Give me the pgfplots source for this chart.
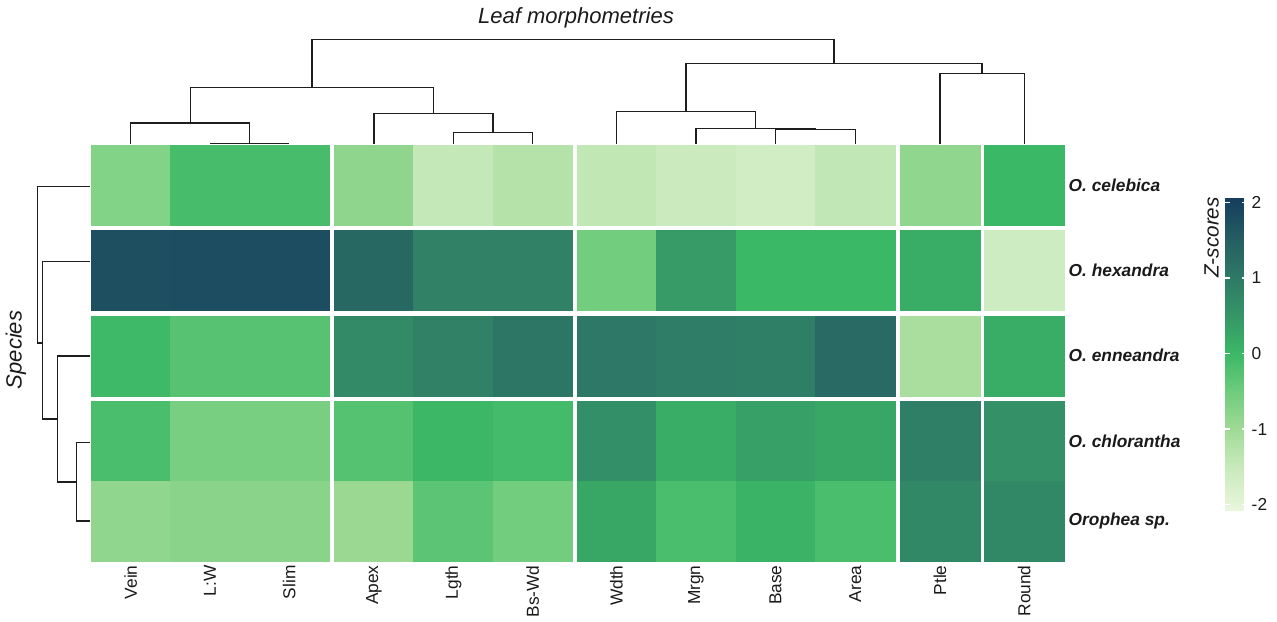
\documentclass[border=0pt]{standalone}
\usepackage{pgfplots}
\usepackage{pgfplotstable}
\pgfplotsset{compat=1.18}
\usepackage{fontspec}
\setmainfont{Liberation Sans}
\definecolor{txt}{RGB}{26,26,26}
\definecolor{dend}{RGB}{30,30,30}

% cell centres (x, y in pixel units of the picture, y measured upward) and z-score
\pgfplotstableread{
x y z
130.7 435.5 -0.70
210.0 435.5 -0.12
289.3 435.5 -0.12
374.0 435.5 -0.83
453.3 435.5 -1.45
532.7 435.5 -1.25
616.5 435.5 -1.40
696.0 435.5 -1.55
775.6 435.5 -1.65
855.2 435.5 -1.42
940.0 435.5 -0.85
1024.2 435.5 0.00
130.7 350.7 1.76
210.0 350.7 1.80
289.3 350.7 1.80
374.0 350.7 1.33
453.3 350.7 0.87
532.7 350.7 0.87
616.5 350.7 -0.54
696.0 350.7 0.43
775.6 350.7 0.00
855.2 350.7 0.00
940.0 350.7 0.18
1024.2 350.7 -1.60
130.7 265.2 -0.02
210.0 265.2 -0.27
289.3 265.2 -0.27
374.0 265.2 0.71
453.3 265.2 0.87
532.7 265.2 1.07
616.5 265.2 1.04
696.0 265.2 0.95
775.6 265.2 0.91
855.2 265.2 1.28
940.0 265.2 -1.12
1024.2 265.2 0.18
130.7 180.0 -0.15
210.0 180.0 -0.60
289.3 180.0 -0.60
374.0 180.0 -0.25
453.3 180.0 0.02
532.7 180.0 -0.08
616.5 180.0 0.62
696.0 180.0 0.18
775.6 180.0 0.36
855.2 180.0 0.25
940.0 180.0 0.91
1024.2 180.0 0.61
130.7 100.2 -0.85
210.0 100.2 -0.77
289.3 100.2 -0.77
374.0 100.2 -0.95
453.3 100.2 -0.32
532.7 100.2 -0.55
616.5 100.2 0.25
696.0 100.2 -0.15
775.6 100.2 0.08
855.2 100.2 -0.15
940.0 100.2 0.75
1024.2 100.2 0.75
}\cells

\begin{document}
\begin{tikzpicture}
\useasboundingbox (0,0) rectangle (957.75pt,465.75pt);
\begin{axis}[
  at={(68.25pt,45.225pt)}, anchor=south west,
  scale only axis, width=729.75pt, height=311.25pt,
  xmin=91, xmax=1064, ymin=60.3, ymax=475.3,
  enlargelimits=false,
  clip=false,
  axis line style={draw=none},
  major tick length=0pt,
  unbounded coords=jump,
  xtick={130.7,210.0,289.3,374.0,453.3,532.7,616.5,696.0,775.6,855.2,940.0,1024.2},
  xticklabels={Vein,L:W,Slim,Apex,Lgth,Bs-Wd,Wdth,Mrgn,Base,Area,Ptle,Round},
  ytick={100.2,180.0,265.2,350.7,435.5},
  yticklabels={Orophea sp.,O. chlorantha,O. enneandra,O. hexandra,O. celebica},
  yticklabel pos=right,
  xticklabel style={rotate=90, anchor=east, font=\fontsize{13}{15}\selectfont, text=txt},
  yticklabel style={anchor=west, font=\fontsize{13}{15}\selectfont\bfseries\itshape, text=txt},
  title={Leaf morphometries},
  every axis title shift=0pt,
  title style={at={(axis cs:576,603)}, anchor=center, font=\fontsize{16.5}{20}\selectfont\itshape, text=txt},
  ylabel={Species},
  ylabel style={at={(axis cs:16,271)}, anchor=center, font=\fontsize{16.5}{20}\selectfont\itshape, text=txt},
  colormap={zs}{rgb255(0pt)=(233,246,220) rgb255(57pt)=(200,234,188) rgb255(107pt)=(160,218,150) rgb255(157pt)=(110,204,125) rgb255(207pt)=(59,184,102) rgb255(257pt)=(53,150,103) rgb255(307pt)=(46,122,102) rgb255(357pt)=(37,95,98) rgb255(414pt)=(21,60,94)},
  point meta min=-2.07, point meta max=2.07,
  colorbar,
  colorbar shift/.style={},
  colorbar style={
    at={(parent axis.north east)}, anchor=north west,
    xshift=120.75pt, yshift=-38.475pt,
    scale only axis, width=16.5pt, height=234.75pt,
    axis line style={draw=none},
    ytick={-2,-1,0,1,2},
    ytick pos=both,
    yticklabel pos=right,
    tick align=inside,
    major tick length=3.75pt,
    ytick style={draw=white, line width=1pt},
    yticklabel style={font=\fontsize{13}{15}\selectfont, text=txt, /pgf/number format/assume math mode=true},
    ylabel={Z-scores},
    ylabel style={at={(rel axis cs:0,1)}, anchor=south east, inner xsep=0pt, inner ysep=4.5pt, font=\fontsize{15.5}{18}\selectfont\itshape, text=txt},
  },
]
\addplot[scatter, only marks, mark=square*, mark size=29.9pt,
  scatter/use mapped color={draw=mapped color, fill=mapped color},
  mark options={line width=0.2pt}, point meta=explicit]
  table[x=x, y=y, meta=z] {\cells};

% column dendrogram
\addplot[dend, line width=1pt, mark=none] coordinates {
(210,477.7) (289.3,477.7)
(nan,nan)
(130.7,476.7) (130.7,498) (249.65,498) (249.65,477.7)
(nan,nan)
(453.3,476.7) (453.3,488.7) (532.7,488.7) (532.7,476.7)
(nan,nan)
(374,476.7) (374,507.7) (493,507.7) (493,488.7)
(nan,nan)
(190.2,498) (190.2,533.7) (433.5,533.7) (433.5,507.7)
(nan,nan)
(775.6,476.7) (775.6,491.3) (855.2,491.3) (855.2,476.7)
(nan,nan)
(696,476.7) (696,492.3) (815.4,492.3) (815.4,491.3)
(nan,nan)
(616.5,476.7) (616.5,509.7) (755.7,509.7) (755.7,492.3)
(nan,nan)
(940,476.7) (940,547.7) (1024.2,547.7) (1024.2,476.7)
(nan,nan)
(686.1,509.7) (686.1,557.3) (982.1,557.3) (982.1,547.7)
(nan,nan)
(311.85,533.7) (311.85,581.7) (834.1,581.7) (834.1,557.3)
};

% row dendrogram
\addplot[dend, line width=1pt, mark=none] coordinates {
(90,178.3) (76.7,178.3) (76.7,100) (90,100)
(nan,nan)
(90,265) (57.3,265) (57.3,139.15) (76.7,139.15)
(nan,nan)
(90,359.3) (42.7,359.3) (42.7,202.1) (57.3,202.1)
(nan,nan)
(90,434.3) (37.3,434.3) (37.3,278) (42.7,278)
};
\end{axis}
\end{tikzpicture}
\end{document}
